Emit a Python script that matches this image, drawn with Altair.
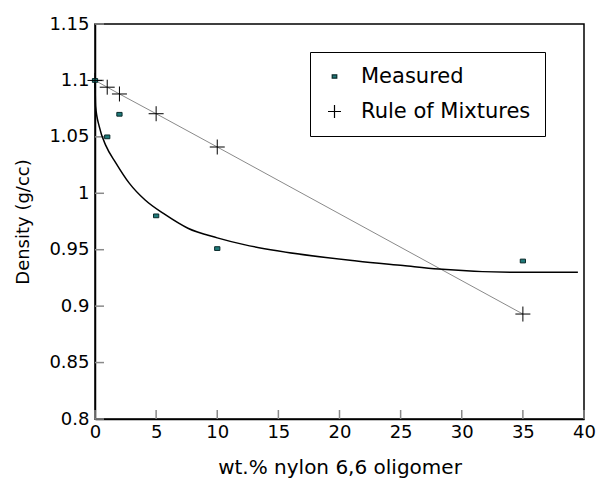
import altair as alt
import pandas as pd

# Measured density
meas_x = [0, 1, 2, 5, 10, 35]
meas_y = [1.100, 1.050, 1.070, 0.980, 0.951, 0.940]

# Rule of mixtures
rom_x = [0, 1, 2, 5, 10, 35]
rom_y = [1.100, 1.094, 1.088, 1.0705, 1.041, 0.893]

fit_x = [0, 0.05, 0.35, 0.9, 1.7, 2.8, 4.1, 5.75, 7.6, 10, 12.2, 14.9, 21.4, 25.2, 28.1, 34.9, 39.5]
fit_y = [1.100, 1.077, 1.059, 1.042, 1.027, 1.009, 0.994, 0.981, 0.969, 0.9605, 0.9545,
         0.949, 0.940, 0.936, 0.933, 0.930, 0.930]

x_ticks = [0, 5, 10, 15, 20, 25, 30, 35, 40]
y_ticks = [0.8, 0.85, 0.9, 0.95, 1.0, 1.05, 1.1, 1.15]

series_names = ["Measured", "Rule of Mixtures"]

W, H = 489, 395
FONT = "DejaVu Sans"

meas_df = pd.DataFrame({"x": meas_x, "y": meas_y, "series": series_names[0]})
rom_df = pd.DataFrame({"x": rom_x, "y": rom_y, "series": series_names[1]})
fit_df = pd.DataFrame({"x": fit_x, "y": fit_y})
xt_df = pd.DataFrame({"x": x_ticks})
yt_df = pd.DataFrame({"y": y_ticks})

xscale = alt.Scale(domain=[0, 40], nice=False, zero=False)
yscale = alt.Scale(domain=[0.8, 1.15], nice=False, zero=False)

xaxis = alt.Axis(values=x_ticks, title="wt.% nylon 6,6 oligomer", ticks=False, grid=False,
                 labelFlush=False, labelPadding=4, titlePadding=16,
                 domainColor="black", domainWidth=1.5)
yaxis = alt.Axis(values=y_ticks, title="Density (g/cc)", ticks=False, grid=False, format="~g",
                 labelFlush=False, labelPadding=6, titlePadding=16,
                 domainColor="black", domainWidth=1.5)

sq_path = "M-0.35,-0.25H0.35V0.25H-0.35Z"
cross_path = "M-1,0H1M0,-1V1"
shape_scale = alt.Scale(domain=series_names, range=[sq_path, cross_path])
stroke_scale = alt.Scale(domain=series_names, range=["#0a2a2a", "black"])
legend = alt.Legend(title=None, orient="none", legendX=215, legendY=28,
                    strokeColor="black", fillColor="white", padding=14, rowPadding=13,
                    labelOffset=16, symbolSize=169, labelFont=FONT, labelFontSize=21,
                    labelLimit=400, symbolFillColor="#1f7a7a", symbolStrokeWidth=1.2)

base_x = alt.X("x:Q", scale=xscale, axis=xaxis)
base_y = alt.Y("y:Q", scale=yscale, axis=yaxis)

rom_line = alt.Chart(rom_df).mark_line(color="#8a8a8a", strokeWidth=1).encode(x=base_x, y=base_y)
fit_line = alt.Chart(fit_df).mark_line(color="black", strokeWidth=1.5, interpolate="monotone").encode(
    x="x:Q", y="y:Q")
meas_pts = alt.Chart(meas_df).mark_point(filled=False, fill="#1f7a7a",
                                         strokeWidth=1, size=225, opacity=1, fillOpacity=1).encode(
    x="x:Q", y="y:Q",
    shape=alt.Shape("series:N", scale=shape_scale, legend=legend),
    stroke=alt.Stroke("series:N", scale=stroke_scale, legend=legend))
rom_pts = alt.Chart(rom_df).mark_point(filled=False, strokeWidth=1,
                                       size=225, opacity=1).encode(
    x="x:Q", y="y:Q",
    shape=alt.Shape("series:N", scale=shape_scale, legend=legend),
    stroke=alt.Stroke("series:N", scale=stroke_scale, legend=legend))

ytick_rules = alt.Chart(yt_df).mark_rule(color="#8a8a8a", strokeWidth=1.5).encode(
    y="y:Q", x=alt.value(0), x2=alt.value(9))
xtick_rules = alt.Chart(xt_df).mark_rule(color="#8a8a8a", strokeWidth=1.5).encode(
    x="x:Q", y=alt.value(H), y2=alt.value(H - 9))

chart = alt.layer(ytick_rules, xtick_rules, rom_line, fit_line, meas_pts, rom_pts).properties(
    width=W, height=H,
    autosize=alt.AutoSizeParams(type="none"),
    padding={"left": 87, "top": 16, "right": 13, "bottom": 62},
).configure_view(
    stroke="black", strokeWidth=1.5
).configure_axis(
    labelFont=FONT, labelFontSize=18, labelColor="black",
    titleFont=FONT, titleFontSize=20, titleFontWeight="normal", titleColor="black"
).configure_axisY(
    titleFontSize=18
)

chart.save("out.html", embed_options={"renderer": "svg", "actions": False})
